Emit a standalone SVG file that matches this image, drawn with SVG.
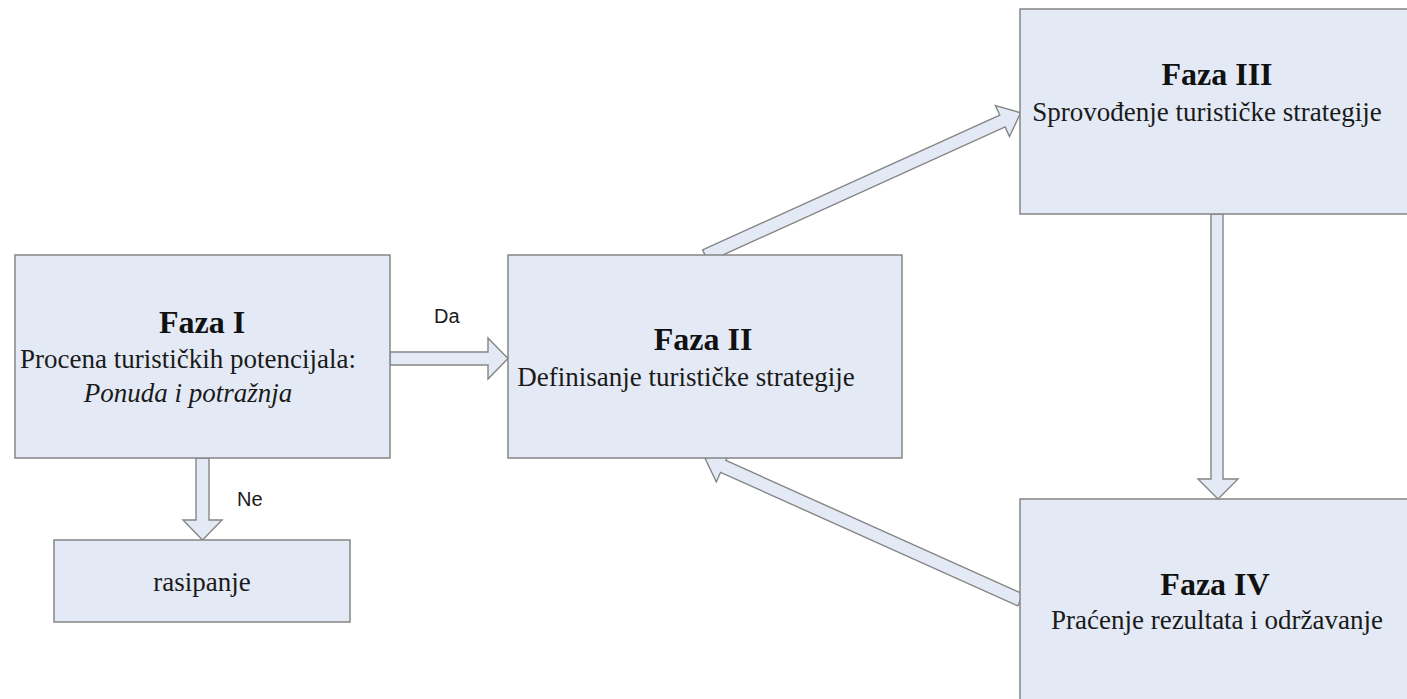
<svg xmlns="http://www.w3.org/2000/svg" width="1407" height="699" viewBox="0 0 1407 699">
  <style>
    .box { fill: #e4eaf5; stroke: #858585; stroke-width: 1.5; }
    .arrow { fill: #e4eaf5; stroke: #858585; stroke-width: 1.4; stroke-linejoin: miter; }
    .title { font-family: "Liberation Serif", "Times New Roman", serif; font-weight: bold; font-size: 32px; fill: #111; text-anchor: middle; }
    .body { font-family: "Liberation Serif", "Times New Roman", serif; font-size: 27px; fill: #1a1a1a; text-anchor: middle; }
    .lbl { font-family: "Liberation Sans", Arial, sans-serif; font-size: 20px; fill: #1a1a1a; }
  </style>
  <rect x="0" y="0" width="1407" height="699" fill="#ffffff"/>

  <g id="connectors">
    <!-- Da: Faza I -> Faza II -->
    <path class="arrow" d="M390,352 H488 V338 L508,358.5 L488,379 V365 H390 Z"/>
    <!-- Ne: Faza I -> rasipanje -->
    <path class="arrow" d="M196,458 V520 H183 L202.5,540 L222,520 H209 V458 Z"/>
    <!-- Faza II -> Faza III -->
    <path class="arrow" transform="translate(705.3,255.8) rotate(-24.4)" d="M0,-6.5 H326.3 V-17 L346.3,0 L326.3,17 V6.5 H0 Z"/>
    <!-- Faza III -> Faza IV -->
    <path class="arrow" d="M1211,214 V479 H1198 L1218,499 L1238,479 H1223 V214 Z"/>
    <!-- Faza IV -> Faza II -->
    <path class="arrow" transform="translate(1020.5,600) rotate(-155.8)" d="M0,-6.5 H325.9 V-17 L345.9,0 L325.9,17 V6.5 H0 Z"/>
    <text class="lbl" x="434" y="323">Da</text>
    <text class="lbl" x="237" y="506">Ne</text>
  </g>

  <g id="faza1">
    <rect class="box" x="15" y="255" width="375" height="203"/>
    <text class="title" x="202" y="333">Faza I</text>
    <text class="body" x="188" y="368">Procena turističkih potencijala:</text>
    <text class="body" x="188" y="402" font-style="italic">Ponuda i potražnja</text>
  </g>

  <g id="rasipanje">
    <rect class="box" x="54" y="540" width="296" height="82"/>
    <text class="body" x="202" y="591">rasipanje</text>
  </g>

  <g id="faza2">
    <rect class="box" x="508" y="255" width="394" height="203"/>
    <text class="title" x="703" y="350">Faza II</text>
    <text class="body" x="686" y="386">Definisanje turističke strategije</text>
  </g>

  <g id="faza3">
    <rect class="box" x="1020" y="9" width="400" height="205"/>
    <text class="title" x="1217" y="85">Faza III</text>
    <text class="body" x="1207" y="121">Sprovođenje turističke strategije</text>
  </g>

  <g id="faza4">
    <rect class="box" x="1020" y="499" width="400" height="220"/>
    <text class="title" x="1215" y="595">Faza IV</text>
    <text class="body" x="1217" y="629">Praćenje rezultata i održavanje</text>
  </g>
</svg>
